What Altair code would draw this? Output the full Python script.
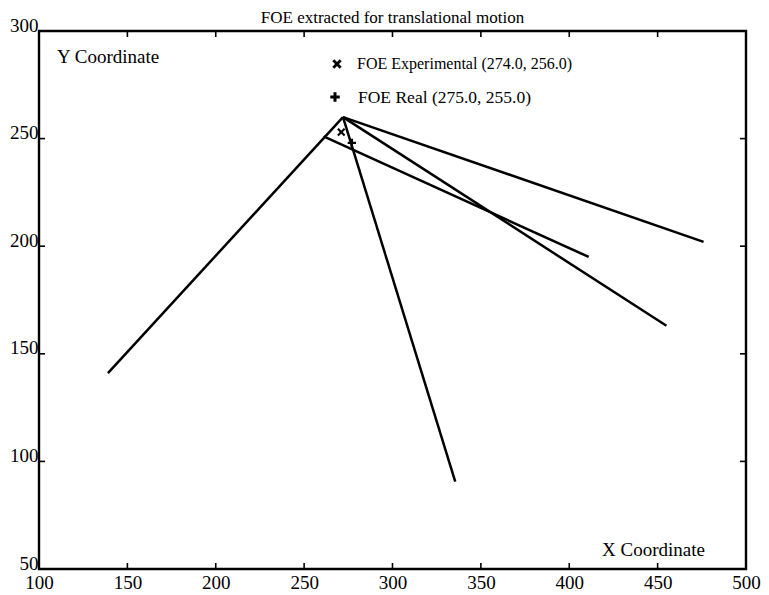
import altair as alt
import pandas as pd

# ---- data ----
seg_ids   = ["s1", "s1", "s2", "s2", "s3", "s3", "s4", "s4", "s5", "s5"]
seg_x     = [139, 272, 261, 411, 272, 476, 272, 455, 272, 335.5]
seg_y     = [141, 260, 251, 195, 260, 202, 260, 163, 260, 90.6]
seg_order = [0, 1, 0, 1, 0, 1, 0, 1, 0, 1]

marker_names = ["FOE Experimental", "FOE Real"]
marker_x = [271, 277]
marker_y = [253, 248]

x_ticks = [100, 150, 200, 250, 300, 350, 400, 450, 500]
y_ticks = [50, 100, 150, 200, 250, 300]

legend_labels = ["FOE Experimental (274.0, 256.0)", "FOE Real (275.0, 255.0)"]
title_text = ["FOE extracted for translational motion"]
x_title = ["X Coordinate"]
y_title = ["Y Coordinate"]

W, H = 707, 538
FONT = "Liberation Serif"

lines_df = pd.DataFrame({"seg": seg_ids, "x": seg_x, "y": seg_y, "o": seg_order})
mk_df = pd.DataFrame({"name": marker_names, "x": marker_x, "y": marker_y})
xt_df = pd.DataFrame({"x": x_ticks})
yt_df = pd.DataFrame({"y": y_ticks})

xs = alt.Scale(domain=[100, 500], nice=False, zero=False)
ys = alt.Scale(domain=[50, 300], nice=False, zero=False)

x_axis = alt.Axis(values=x_ticks, ticks=False, domain=False, grid=False,
                  labelFont=FONT, labelFontSize=19, labelPadding=4,
                  labelColor="black", title=None, labelFlush=False)
y_axis = alt.Axis(values=y_ticks, ticks=False, domain=False, grid=False,
                  labelFont=FONT, labelFontSize=19, labelPadding=1,
                  labelOffset=-6, labelColor="black", title=None,
                  labelFlush=False)

X = lambda: alt.X("x:Q", scale=xs, axis=x_axis)
Y = lambda: alt.Y("y:Q", scale=ys, axis=y_axis)

lines = alt.Chart(lines_df).mark_line(color="black", strokeWidth=2.5).encode(
    x=X(), y=Y(), detail="seg:N", order="o:Q",
)

xshape = "M-1,-1L1,1M-1,1L1,-1"
pshape = "M-1,0L1,0M0,-1L0,1"

exp_pt = alt.Chart(mk_df[mk_df.name == "FOE Experimental"]).mark_point(
    shape=xshape, size=45, color="black", strokeWidth=2.2, filled=False,
    opacity=1).encode(x=X(), y=Y())
real_pt = alt.Chart(mk_df[mk_df.name == "FOE Real"]).mark_point(
    shape=pshape, size=70, color="black", strokeWidth=2.4, filled=False,
    opacity=1).encode(x=X(), y=Y())

tick_len = 6
tb = alt.Chart(xt_df).mark_rule(color="black", strokeWidth=1.6).encode(
    x=X(), y=alt.value(H), y2=alt.value(H - tick_len))
tt = alt.Chart(xt_df).mark_rule(color="black", strokeWidth=1.6).encode(
    x=X(), y=alt.value(0), y2=alt.value(tick_len))
tl = alt.Chart(yt_df).mark_rule(color="black", strokeWidth=1.6).encode(
    y=Y(), x=alt.value(0), x2=alt.value(tick_len))
tr = alt.Chart(yt_df).mark_rule(color="black", strokeWidth=1.6).encode(
    y=Y(), x=alt.value(W), x2=alt.value(W - tick_len))

leg_df = pd.DataFrame({"label": legend_labels})
leg_x_glyph = alt.Chart(leg_df.iloc[[0]]).mark_point(
    shape=xshape, size=55, color="black", strokeWidth=2.8, filled=False,
    opacity=1).encode(x=alt.value(298), y=alt.value(33))
leg_p_glyph = alt.Chart(leg_df.iloc[[1]]).mark_point(
    shape=pshape, size=90, color="black", strokeWidth=3, filled=False,
    opacity=1).encode(x=alt.value(296), y=alt.value(66))
leg_t1 = alt.Chart(leg_df.iloc[[0]]).mark_text(
    align="left", baseline="middle", font=FONT, fontSize=16, color="black").encode(
    x=alt.value(318), y=alt.value(33), text="label:N")
leg_t2 = alt.Chart(leg_df.iloc[[1]]).mark_text(
    align="left", baseline="middle", font=FONT, fontSize=17.5, color="black").encode(
    x=alt.value(319), y=alt.value(67), text="label:N")

title_mark = alt.Chart(pd.DataFrame({"t": title_text})).mark_text(
    align="center", baseline="alphabetic", font=FONT, fontSize=17, color="black").encode(
    x=alt.value(W / 2), y=alt.value(-8), text="t:N")
ylab = alt.Chart(pd.DataFrame({"t": y_title})).mark_text(
    align="left", baseline="middle", font=FONT, fontSize=19, color="black").encode(
    x=alt.value(18), y=alt.value(26), text="t:N")
xlab = alt.Chart(pd.DataFrame({"t": x_title})).mark_text(
    align="right", baseline="middle", font=FONT, fontSize=19, color="black").encode(
    x=alt.value(666), y=alt.value(519), text="t:N")

chart = alt.layer(
    lines, exp_pt, real_pt, tb, tt, tl, tr,
    leg_x_glyph, leg_p_glyph, leg_t1, leg_t2, title_mark, ylab, xlab,
).properties(
    width=W, height=H,
    autosize=alt.AutoSizeParams(type="none"),
    padding={"left": 31, "top": 23, "right": 15, "bottom": 26},
).configure(background="white").configure_view(stroke="black", strokeWidth=2.4)

chart.save("out.html", embed_options={"renderer": "svg", "actions": False})
